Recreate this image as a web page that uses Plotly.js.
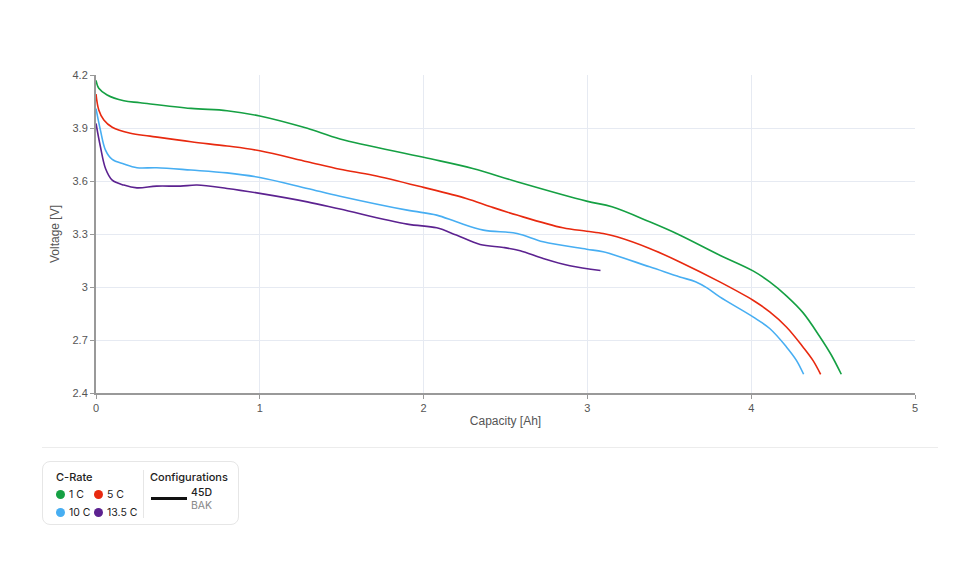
<!DOCTYPE html>
<html>
<head>
<meta charset="utf-8">
<script src="https://cdn.plot.ly/plotly-3.0.1.min.js"></script>
<style>
  html, body { margin:0; padding:0; background:#fff; width:980px; height:588px; overflow:hidden; }
  #chart { position:absolute; left:0; top:0; width:980px; height:440px; }
  #sep { position:absolute; left:42px; top:447px; width:896px; height:1px; background:#ececec; }
  #legend { position:absolute; left:42px; top:461px; width:197px; height:64px; border:1px solid #e6e6e6; border-radius:8px; box-sizing:border-box; font-family:Inter, "Noto Sans", sans-serif; font-size:10.5px; color:#222; }
  .t { position:absolute; white-space:nowrap; }
  .dot { position:absolute; width:9px; height:9px; border-radius:50%; }
</style>
</head>
<body>
<div id="chart"></div>
<div id="sep"></div>
<div id="legend"></div>
<script>
// ---- data ----
const rateLabels = ["1 C", "5 C", "10 C", "13.5 C"];
const rateColors = ["#15a043", "#e8290f", "#47aef2", "#5c2290"];
const configName = "45D";
const configMaker = "BAK";

const cap1C = [0, 0.017, 0.068, 0.17, 0.27, 0.58, 0.80, 1.0, 1.29, 1.49, 2.0, 2.30, 2.57, 2.995, 3.15, 3.38, 3.55, 3.808, 4.011, 4.113, 4.215, 4.316, 4.418, 4.489, 4.55];
const volt1C = [4.17, 4.125, 4.087, 4.054, 4.043, 4.011, 3.998, 3.968, 3.898, 3.838, 3.734, 3.671, 3.596, 3.486, 3.454, 3.369, 3.300, 3.180, 3.091, 3.029, 2.950, 2.855, 2.720, 2.615, 2.506];

const cap5C = [0, 0.017, 0.048, 0.099, 0.21, 0.33, 0.58, 0.80, 1.0, 1.29, 1.49, 1.69, 2.0, 2.26, 2.41, 2.57, 2.85, 2.995, 3.096, 3.18, 3.38, 3.564, 3.808, 4.011, 4.113, 4.215, 4.316, 4.377, 4.424];
const volt5C = [4.092, 4.002, 3.945, 3.904, 3.870, 3.854, 3.822, 3.798, 3.771, 3.709, 3.666, 3.633, 3.564, 3.501, 3.454, 3.407, 3.335, 3.316, 3.303, 3.284, 3.218, 3.142, 3.029, 2.925, 2.859, 2.774, 2.661, 2.585, 2.506];

const cap10C = [0, 0.027, 0.058, 0.099, 0.17, 0.25, 0.37, 0.58, 0.80, 1.0, 1.29, 1.49, 1.90, 2.08, 2.20, 2.365, 2.57, 2.73, 2.995, 3.096, 3.38, 3.564, 3.66, 3.73, 3.808, 4.011, 4.113, 4.215, 4.276, 4.32];
const volt10C = [4.01, 3.888, 3.775, 3.722, 3.696, 3.675, 3.675, 3.662, 3.646, 3.620, 3.558, 3.514, 3.435, 3.407, 3.369, 3.322, 3.303, 3.256, 3.214, 3.199, 3.114, 3.057, 3.030, 2.995, 2.944, 2.831, 2.765, 2.661, 2.585, 2.506];

const cap135C = [0, 0.027, 0.058, 0.099, 0.17, 0.25, 0.37, 0.515, 0.617, 0.80, 1.0, 1.29, 1.49, 1.90, 2.08, 2.20, 2.345, 2.487, 2.59, 2.73, 2.893, 3.08];
const volt135C = [3.926, 3.794, 3.671, 3.605, 3.577, 3.561, 3.571, 3.571, 3.577, 3.558, 3.530, 3.482, 3.441, 3.356, 3.335, 3.294, 3.241, 3.224, 3.205, 3.161, 3.120, 3.093];

const xTicks = [0, 1, 2, 3, 4, 5];
const yTicks = [2.4, 2.7, 3.0, 3.3, 3.6, 3.9, 4.2];
const yTickText = ["2.4", "2.7", "3", "3.3", "3.6", "3.9", "4.2"];

// ---- chart ----
const xs = [cap1C, cap5C, cap10C, cap135C];
const ys = [volt1C, volt5C, volt10C, volt135C];
const traces = xs.map((x, i) => ({
  x: x, y: ys[i], type: "scatter", mode: "lines", name: rateLabels[i],
  line: { color: rateColors[i], width: 1.6, shape: "spline", smoothing: 1 },
  hoverinfo: "skip"
}));

const axisFont = { family: "Liberation Sans, Arial, sans-serif", size: 11, color: "#555" };
const layout = {
  width: 980, height: 440,
  margin: { l: 95.5, r: 64.5, t: 75, b: 47.3 },
  paper_bgcolor: "#fff", plot_bgcolor: "#fff",
  showlegend: false,
  xaxis: {
    range: [0, 5], tickvals: xTicks, ticktext: xTicks.map(String),
    showgrid: true, gridcolor: "#e6eaf2", gridwidth: 1,
    showline: true, linecolor: "#999", linewidth: 2,
    ticks: "outside", ticklen: 4, tickcolor: "#999", tickwidth: 1,
    zeroline: false, tickfont: axisFont,
    title: { text: "Capacity [Ah]", font: { family: "Liberation Sans, Arial, sans-serif", size: 12, color: "#555" }, standoff: 3 }
  },
  yaxis: {
    range: [2.4, 4.2], tickvals: yTicks, ticktext: yTickText,
    showgrid: true, gridcolor: "#e6eaf2", gridwidth: 1,
    showline: true, linecolor: "#999", linewidth: 2,
    ticks: "outside", ticklen: 4, tickcolor: "#999", tickwidth: 1,
    zeroline: false, tickfont: axisFont,
    title: { text: "Voltage [V]", font: { family: "Liberation Sans, Arial, sans-serif", size: 12, color: "#555" }, standoff: 10 }
  }
};
Plotly.newPlot("chart", traces, layout, { staticPlot: true, displayModeBar: false });

// ---- custom legend ----
const lg = document.getElementById("legend");
function add(html) { lg.insertAdjacentHTML("beforeend", html); }
add('<div class="t" style="left:13px;top:8px;font-weight:500;font-size:11px;">C-Rate</div>');
const pos = [[13, 26], [51, 26], [13, 44], [51, 44]];
rateLabels.forEach((lab, i) => {
  const [x, y] = pos[i];
  add('<div class="dot" style="left:' + x + 'px;top:' + (y + 2) + 'px;background:' + rateColors[i] + ';"></div>');
  add('<div class="t" style="left:' + (x + 13) + 'px;top:' + y + 'px;">' + lab + '</div>');
});
add('<div style="position:absolute;left:100px;top:8px;width:1px;height:48px;background:#e6e6e6;"></div>');
add('<div class="t" style="left:107px;top:8px;font-weight:500;font-size:11px;">Configurations</div>');
add('<div style="position:absolute;left:108px;top:35px;width:36px;height:3px;background:#111;"></div>');
add('<div class="t" style="left:148px;top:24px;font-weight:500;">' + configName + '</div>');
add('<div class="t" style="left:148px;top:37px;color:#888;">' + configMaker + '</div>');
</script>
</body>
</html>
